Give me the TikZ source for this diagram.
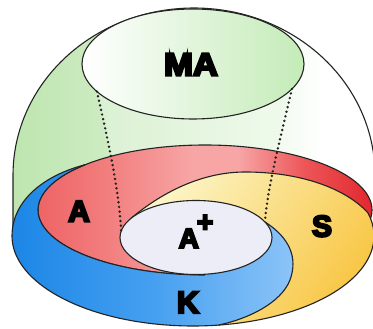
\documentclass[tikz,border=0pt]{standalone}
\usepackage{fontspec}
\newfontfamily\lblfont{Liberation Sans Bold}[FakeBold=7]

% palette
\definecolor{outl}{RGB}{35,35,35}
\definecolor{domeL}{RGB}{190,229,175}
\definecolor{domeM}{RGB}{220,242,212}
\definecolor{cylL}{RGB}{218,241,210}
\definecolor{cylR}{RGB}{240,250,237}
\definecolor{maR}{RGB}{196,235,184}
\definecolor{redA}{RGB}{238,100,102}
\definecolor{redB}{RGB}{242,125,125}
\definecolor{redC}{RGB}{247,165,165}
\definecolor{redD}{RGB}{236,85,88}
\definecolor{redE}{RGB}{226,40,46}
\definecolor{blueA}{RGB}{28,134,230}
\definecolor{blueB}{RGB}{70,160,240}
\definecolor{blueC}{RGB}{142,197,248}
\definecolor{yelA}{RGB}{252,245,198}
\definecolor{yelB}{RGB}{248,198,68}
\definecolor{innerC}{RGB}{237,237,247}

\pgfdeclarehorizontalshading{domeshade}{100bp}{color(0bp)=(domeL); color(25bp)=(domeL); color(50bp)=(domeM); color(68bp)=(white); color(100bp)=(white)}
\pgfdeclarehorizontalshading{redshade}{100bp}{color(0bp)=(redA); color(25bp)=(redA); color(35bp)=(redB); color(48bp)=(redC); color(55bp)=(redC); color(65bp)=(redD); color(75bp)=(redE); color(100bp)=(redE)}
\pgfdeclarehorizontalshading{blueshade}{100bp}{color(0bp)=(blueA); color(25bp)=(blueA); color(50bp)=(blueB); color(75bp)=(blueC); color(100bp)=(blueC)}

\tikzset{
  outline/.style={draw=outl, line width=1.1pt, line join=round},
  dotline/.style={draw=outl, line width=2.7pt, dash pattern=on 0pt off 4.7pt, line cap=round},
  lbl/.style={font=\lblfont\fontsize{30}{30}\selectfont, inner sep=0pt, anchor=base, text=black},
}

\begin{document}
\begin{tikzpicture}[x=1pt, y=-1pt]
\useasboundingbox (0,0) rectangle (373,329);
\clip (0,0) rectangle (373,329);

% key points
\coordinate (Q2) at ({196+76*cos(211)},{237.5+37*sin(211)});
\coordinate (P)  at ({196+76*cos(-25)},{237.5+37*sin(-25)});
\coordinate (IL) at ({196+76*cos(190)},{237.5+37*sin(190)});
\coordinate (T)  at ({193+181*cos(-15)},{236+90*sin(-15)});
\coordinate (B0) at ({193+181*cos(82)},{236+90*sin(82)});
\coordinate (BT) at ({205+167*cos(224.06)},{210+65*sin(224.06)});
\coordinate (ML) at ({193+111*cos(149.9)},{64+55*sin(149.9)});
\coordinate (MR) at ({193+111*cos(26.9)},{64+55*sin(26.9)});
\coordinate (IC) at (196,237.5);

% dome
\path[shading=domeshade] (13,232) -- (13,175)
  -- plot[domain=180:360, samples=90] ({194+181*cos(\x)},{175+167*sin(\x)})
  -- (375,212) -- cycle;
\draw[outline] (13,232) -- (13,175)
  -- plot[domain=180:360, samples=90] ({194+181*cos(\x)},{175+167*sin(\x)})
  -- (375,212);

% cylinder between the two ellipses
\path[left color=cylL, right color=cylR] (ML) .. controls (108,140) and (119,190) .. (IL)
  -- (P) .. controls (268,185) and (280,140) .. (MR)
  -- plot[domain=26.9:149.9, samples=40] ({193+111*cos(\x)},{64+55*sin(\x)}) -- cycle;

% MA ellipse
\path[left color=white, right color=maR] (193,64) ellipse [x radius=111pt, y radius=55pt];
\draw[outline] (193,64) ellipse [x radius=111pt, y radius=55pt];

% A (red)
\path[shading=redshade] (205,210) ellipse [x radius=167pt, y radius=65pt];
\draw[outline] (205,210) ellipse [x radius=167pt, y radius=65pt];

% S (yellow)
\path[left color=yelA, right color=yelB, shading angle=55]
  (Q2) .. controls (160,194) and (200,172) .. (245,172)
  .. controls (300,172) and (345,188) .. (T)
  -- plot[domain=-15:82, samples=50] ({193+181*cos(\x)},{236+90*sin(\x)})
  -- (IC) -- cycle;
\draw[outline] (Q2) .. controls (160,194) and (200,172) .. (245,172)
  .. controls (300,172) and (345,188) .. (T)
  -- plot[domain=-15:82, samples=50] ({193+181*cos(\x)},{236+90*sin(\x)});

% K (blue)
\path[shading=blueshade]
  plot[domain=224.06:90, samples=60] ({205+167*cos(\x)},{210+65*sin(\x)})
  -- (236,246) -- (P)
  .. controls (290,238) and (298,258) .. (290,280)
  .. controls (281,303) and (248,319) .. (B0)
  -- plot[domain=82:180, samples=50] ({193+181*cos(\x)},{236+90*sin(\x)})
  .. controls (12,200) and (45,175) .. (BT) -- cycle;
\draw[outline] plot[domain=224.06:90, samples=60] ({205+167*cos(\x)},{210+65*sin(\x)});
\draw[outline] (P)
  .. controls (290,238) and (298,258) .. (290,280)
  .. controls (281,303) and (248,319) .. (B0)
  -- plot[domain=82:180, samples=50] ({193+181*cos(\x)},{236+90*sin(\x)})
  .. controls (12,200) and (45,175) .. (BT);

% A+ (inner)
\path[fill=innerC] (IC) ellipse [x radius=76pt, y radius=37pt];
\draw[outline] (IC) ellipse [x radius=76pt, y radius=37pt];

% dotted projection lines
\draw[dotline] (ML) .. controls (108,140) and (119,190) .. (IL);
\draw[dotline] (MR) .. controls (280,140) and (268,185) .. (P);

% labels
\node[lbl, font=\lblfont\fontsize{32}{32}\selectfont, xscale=1.08] (ma) at (191,75.5) {MA};
\node[lbl] (a) at (79,221.5) {A};
\node[lbl, font=\lblfont\fontsize{28}{28}\selectfont] (ap) at (196,248) {A\kern-2pt\raisebox{16.4pt}{+}};
\node[lbl] (s) at (322,236.5) {S};
\node[lbl, font=\lblfont\fontsize{31}{31}\selectfont] (k) at (188,313) {K};
\end{tikzpicture}
\end{document}
